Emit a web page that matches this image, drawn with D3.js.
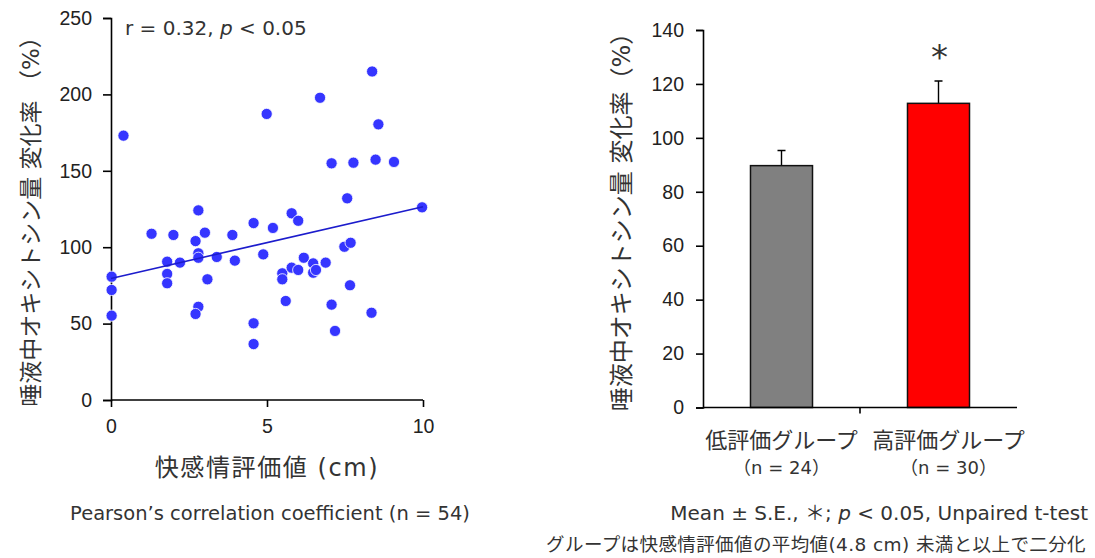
<!DOCTYPE html>
<html>
<head>
<meta charset="utf-8">
<script src="https://cdn.jsdelivr.net/npm/d3@7"></script>
<style>
  body { margin: 0; background: #fff; }
  svg { font-family: "DejaVu Sans", "Noto Sans CJK JP", sans-serif; }
  .axis path, .axis line { stroke: #000; stroke-width: 1.6; }
  .axis text { fill: #222; font-size: 19.5px; }
</style>
</head>
<body>
<div id="chart"></div>
<script>
// scatter: pleasant-feeling score (cm) vs salivary oxytocin change (%)
const scoreCm = [0.02, 0.02, 0.02, 0.4, 1.3, 2.0, 2.8, 2.71, 3.01, 2.8, 2.8, 1.8, 2.21, 1.8, 1.8, 3.09, 3.39, 3.89,
  3.97, 2.8, 2.71, 4.57, 5.19, 4.88, 4.57, 4.57, 5.79, 6.0, 5.49, 5.49, 5.79, 6.0, 6.18, 6.48, 6.48, 5.6,
  6.57, 6.88, 7.48, 7.68, 7.66, 7.07, 8.35, 7.18, 9.97, 7.57, 8.37, 6.7, 8.57, 7.07, 7.77, 8.48, 9.07, 4.99];
const oxyChange = [80.7, 72, 55.2, 173, 108.8, 108, 124.1, 104, 109.5, 96, 93.1, 90.5, 89.9, 82.5, 76.4, 79, 93.6, 108,
  91.2, 61, 56.3, 115.8, 112.6, 95.3, 50.2, 36.6, 122.2, 117.3, 82.9, 79, 86.6, 85.1, 93.1, 89.4, 83.3, 64.8,
  85.1, 89.9, 100.3, 102.9, 75.1, 62.4, 57.1, 45.2, 126.1, 132, 215, 197.8, 180.4, 154.9, 155.3, 157.3, 155.8, 187.2];
const fitIntercept = 79.5;
const fitSlope = 4.7;
const scatterXTicks = [0, 5, 10];
const scatterYTicks = [0, 50, 100, 150, 200, 250];

// bars: group means with S.E.
const groups = ['低評価グループ', '高評価グループ'];
const groupN = ['（n = 24）', '（n = 30）'];
const groupMean = [89.7, 112.8];
const groupSE = [5.6, 8.3];
const groupColors = ['#808080', '#ff0000'];
const barYTicks = [0, 20, 40, 60, 80, 100, 120, 140];

const svg = d3.select('#chart').append('svg')
  .attr('width', 1095)
  .attr('height', 558);

// ---------- scatter ----------
const x = d3.scaleLinear().domain([0, 10]).range([111, 423]);
const y = d3.scaleLinear().domain([0, 250]).range([400, 18]);

svg.append('g')
  .attr('class', 'axis')
  .attr('transform', 'translate(0,400)')
  .call(d3.axisBottom(x).tickValues(scatterXTicks).tickSizeOuter(0).tickSize(7).tickPadding(12))
  .call(g => g.select('.domain').attr('d', 'M111,0H423'));

svg.append('g')
  .attr('class', 'axis')
  .attr('transform', 'translate(111,0)')
  .call(d3.axisLeft(y).tickValues(scatterYTicks).tickSizeOuter(0).tickSize(8).tickPadding(11));

const points = scoreCm.map((v, i) => ({ x: v, y: oxyChange[i] }));
svg.append('g').selectAll('circle')
  .data(points)
  .enter()
  .append('circle')
  .attr('cx', d => x(d.x))
  .attr('cy', d => y(d.y))
  .attr('r', 5.6)
  .style('fill', '#3535ff')
  .style('stroke', '#fff')
  .style('stroke-width', 0.8);

svg.append('line')
  .attr('x1', x(0)).attr('y1', y(fitIntercept))
  .attr('x2', x(10)).attr('y2', y(fitIntercept + fitSlope * 10))
  .style('stroke', '#1c1ccc')
  .style('stroke-width', 1.6);

const rText = svg.append('text')
  .attr('x', 125).attr('y', 35)
  .style('font-size', '20px').style('fill', '#333');
rText.append('tspan').text('r = 0.32, ');
rText.append('tspan').style('font-style', 'italic').text('p');
rText.append('tspan').text(' < 0.05');

svg.append('text')
  .attr('transform', 'translate(39,216) rotate(-90)')
  .attr('text-anchor', 'middle')
  .style('font-size', '23px').style('fill', '#333')
  .text('唾液中オキシトシン量 変化率 （%）');

svg.append('text')
  .attr('x', 267).attr('y', 476)
  .attr('text-anchor', 'middle')
  .style('font-size', '24px').style('letter-spacing', '1.6px').style('fill', '#333')
  .text('快感情評価値 (cm)');

svg.append('text')
  .attr('x', 270).attr('y', 520)
  .attr('text-anchor', 'middle')
  .style('font-size', '19.5px').style('fill', '#333')
  .text('Pearson’s correlation coefficient (n = 54)');

// ---------- bars ----------
const bx = d3.scaleBand().domain(groups).range([703, 1017]);
const by = d3.scaleLinear().domain([0, 140]).range([407.5, 30]);
const barW = bx.step() * 0.395;
const labelShift = [0, 10];

svg.append('g')
  .attr('class', 'axis')
  .attr('transform', 'translate(703,0)')
  .call(d3.axisLeft(by).tickValues(barYTicks).tickSizeOuter(0).tickSize(7).tickPadding(12));

const bars = groups.map((g, i) => ({ key: g, n: groupN[i], mean: groupMean[i], se: groupSE[i], color: groupColors[i], dx: labelShift[i] }));

svg.append('g').selectAll('.err')
  .data(bars)
  .enter()
  .append('path')
  .attr('class', 'err')
  .attr('d', d => {
    const cx = bx(d.key) + bx.bandwidth() / 2;
    return `M${cx},${by(d.mean)}V${by(d.mean + d.se)}M${cx - 4},${by(d.mean + d.se)}H${cx + 4}`;
  })
  .style('stroke', '#000')
  .style('stroke-width', 1.4)
  .style('fill', 'none');

svg.append('g').selectAll('.bar')
  .data(bars)
  .enter()
  .append('rect')
  .attr('class', 'bar')
  .attr('x', d => bx(d.key) + (bx.bandwidth() - barW) / 2)
  .attr('y', d => by(d.mean))
  .attr('width', barW)
  .attr('height', d => by(0) - by(d.mean))
  .style('fill', d => d.color)
  .style('stroke', '#111')
  .style('stroke-width', 1.5);

// category axis with ticks between categories
const xAxisG = svg.append('g').attr('class', 'axis');
xAxisG.append('line')
  .attr('x1', 703).attr('x2', 1017)
  .attr('y1', by(0)).attr('y2', by(0));
xAxisG.append('line')
  .attr('x1', bx(groups[1])).attr('x2', bx(groups[1]))
  .attr('y1', by(0)).attr('y2', by(0) + 6);

svg.append('g').selectAll('.cat')
  .data(bars)
  .enter()
  .append('text')
  .attr('x', d => bx(d.key) + bx.bandwidth() / 2 + d.dx)
  .attr('y', 448)
  .attr('text-anchor', 'middle')
  .style('font-size', '22px').style('fill', '#333')
  .text(d => d.key);

svg.append('g').selectAll('.ncat')
  .data(bars)
  .enter()
  .append('text')
  .attr('x', d => bx(d.key) + bx.bandwidth() / 2 + d.dx)
  .attr('y', 474)
  .attr('text-anchor', 'middle')
  .style('font-size', '18px').style('fill', '#333')
  .text(d => d.n);

svg.append('text')
  .attr('x', bx(groups[1]) + bx.bandwidth() / 2 + 1)
  .attr('y', by(groupMean[1] + groupSE[1]) - 12)
  .attr('text-anchor', 'middle')
  .style('font-size', '34px').style('fill', '#333')
  .text('*');

svg.append('text')
  .attr('transform', 'translate(630,216) rotate(-90)')
  .attr('text-anchor', 'middle')
  .style('font-size', '24px').style('fill', '#333')
  .text('唾液中オキシトシン量 変化率（%）');

const note = svg.append('text')
  .attr('x', 1088).attr('y', 520)
  .attr('text-anchor', 'end')
  .style('font-size', '20px').style('fill', '#333');
note.append('tspan').text('Mean ± S.E., ＊; ');
note.append('tspan').style('font-style', 'italic').text('p');
note.append('tspan').text(' < 0.05, Unpaired t-test');

svg.append('text')
  .attr('x', 1086).attr('y', 551)
  .attr('text-anchor', 'end')
  .style('font-size', '18.5px').style('letter-spacing', '0.4px').style('fill', '#333')
  .text('グループは快感情評価値の平均値(4.8 cm) 未満と以上で二分化');
</script>
</body>
</html>
